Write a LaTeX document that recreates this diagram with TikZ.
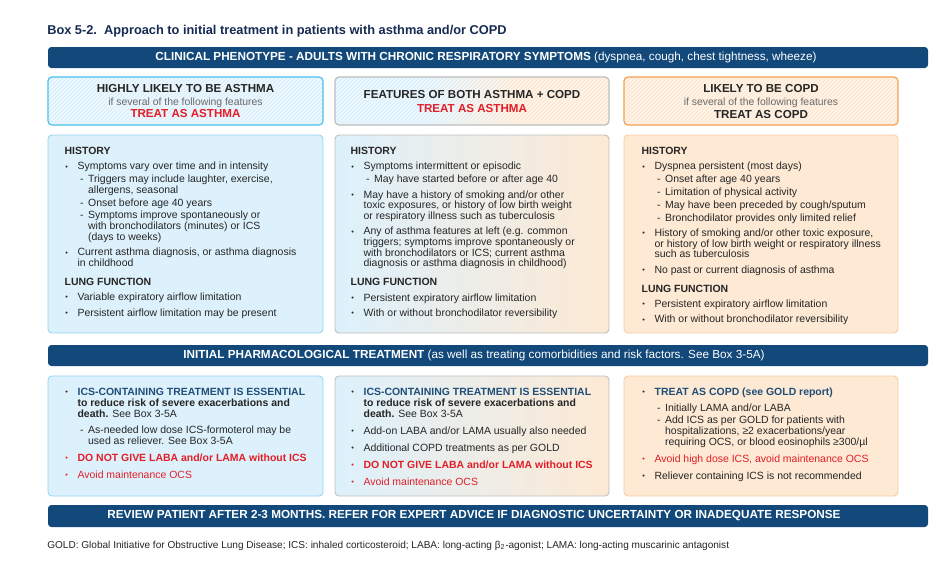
\documentclass[tikz,border=0pt]{standalone}
\usepackage{fontspec}
\setmainfont{Liberation Sans}
\usetikzlibrary{patterns}

\definecolor{navy}{RGB}{18,73,122}
\definecolor{titleblue}{RGB}{22,43,84}
\definecolor{dblue}{RGB}{31,78,121}
\definecolor{lblue}{RGB}{221,241,252}
\definecolor{cyanline}{RGB}{76,192,238}
\definecolor{cyanlight}{RGB}{150,214,242}
\definecolor{lpeach}{RGB}{253,233,212}
\definecolor{midcream}{RGB}{246,243,238}
\definecolor{orline}{RGB}{244,160,82}
\definecolor{orlight}{RGB}{249,206,164}
\definecolor{grline}{RGB}{190,190,190}
\definecolor{redtxt}{RGB}{226,30,40}
\definecolor{txt}{RGB}{38,38,38}
\definecolor{subtxt}{RGB}{105,105,105}

\pgfdeclarehorizontalshading{bothsh}{100bp}{color(0bp)=(lblue); color(42bp)=(lblue); color(58bp)=(lpeach); color(100bp)=(lpeach)}

% list macros
\newlength{\bgap}
\newlength{\dgap}
\newif\iffirstln
\newcommand{\lngap}[1]{\par\iffirstln\global\firstlnfalse\else\vspace{#1}\fi}
\newcommand{\dotmark}{\raisebox{0.5pt}{\fontsize{5.5}{5.5}\selectfont\textbullet}}
\newcommand{\hd}[1]{\lngap{6pt}\noindent\textbf{#1}}
\newcommand{\bul}[1][txt]{\lngap{\bgap}\noindent\hangindent=9.7pt\hangafter=1\makebox[9.7pt][l]{\kern0.5pt\textcolor{#1}{\dotmark}}\ignorespaces}
\newcommand{\dsh}[1][\dgap]{\lngap{#1}\noindent\hangindent=17.6pt\hangafter=1\hspace*{11.6pt}\makebox[6pt][l]{-}\ignorespaces}
\newcommand{\histfont}{\fontsize{7.85}{8}\selectfont\setlength{\parindent}{0pt}\setlength{\bgap}{3.6pt}\setlength{\dgap}{1.6pt}\global\firstlntrue}
\newcommand{\treatfont}{\fontsize{7.85}{8.3}\selectfont\setlength{\parindent}{0pt}\setlength{\bgap}{4.4pt}\setlength{\dgap}{3.5pt}\global\firstlntrue}

\begin{document}
\begin{tikzpicture}[x=0.75pt,y=-0.75pt,
  bar/.style={fill=navy, rounded corners=2.5pt},
  bartext/.style={text=white, font=\fontsize{8.8}{10}\selectfont},
  headbox/.style={rounded corners=3pt, line width=0.9pt},
  bodybox/.style={rounded corners=3pt, line width=0.7pt},
  hatch/.style={rounded corners=3pt, pattern=north east lines, pattern color=white, fill opacity=0.7},
  list/.style={anchor=base west, inner sep=0pt, text=txt},
  htitle/.style={font=\fontsize{8.7}{9}\selectfont\bfseries, text=txt},
  hsub/.style={font=\fontsize{7.8}{9}\selectfont, text=subtxt},
  htreat/.style={font=\fontsize{8.7}{9}\selectfont\bfseries, text=redtxt}]

\useasboundingbox (0,0) rectangle (945,579);
\fill[white] (0,0) rectangle (945,579);

\node[anchor=base west, inner sep=0pt, text=titleblue, font=\fontsize{9.6}{11}\selectfont\bfseries] (boxtitle) at (47,34.6) {Box 5-2.\ \ Approach to initial treatment in patients with asthma and/or COPD};

% phenotype bar
\fill[bar] (48,47) rectangle (928,68);
\node[bartext] (phenotype) at (486,57.5) {\textbf{CLINICAL PHENOTYPE - ADULTS WITH CHRONIC RESPIRATORY SYMPTOMS} (dyspnea, cough, chest tightness, wheeze)};

% header boxes
\fill[rounded corners=3pt, lblue] (48,77) rectangle (323,125);
\fill[hatch] (48,77) rectangle (323,125);
\draw[headbox, cyanline] (48,77) rectangle (323,125);

\shade[rounded corners=3pt, shading=bothsh] (335,77) rectangle (609,125);
\fill[hatch] (335,77) rectangle (609,125);
\draw[headbox, grline] (335,77) rectangle (609,125);

\fill[rounded corners=3pt, lpeach] (624,77) rectangle (898,125);
\fill[hatch] (624,77) rectangle (898,125);
\draw[headbox, orline] (624,77) rectangle (898,125);

\node[htitle] (asthmaTitle) at (185.5,88.3) {HIGHLY LIKELY TO BE ASTHMA};
\node[hsub] (asthmaSub) at (185.5,102.7) {if several of the following features};
\node[htreat] (asthmaTreat) at (185.5,113.3) {TREAT AS ASTHMA};

\node[htitle] (bothTitle) at (472,95) {FEATURES OF BOTH ASTHMA + COPD};
\node[htreat] (bothTreat) at (472,108.3) {TREAT AS ASTHMA};

\node[htitle] (copdTitle) at (761,88.3) {LIKELY TO BE COPD};
\node[hsub] (copdSub) at (761,102.7) {if several of the following features};
\node[htitle] (copdTreat) at (761,114.3) {TREAT AS COPD};

% history boxes
\filldraw[bodybox, fill=lblue, draw=cyanlight] (48,135) rectangle (323,333);
\shade[rounded corners=3pt, left color=lblue, middle color=midcream, right color=lpeach] (335,135) rectangle (609,333);
\draw[bodybox, grline] (335,135) rectangle (609,333);
\filldraw[bodybox, fill=lpeach, draw=orlight] (624,135) rectangle (898,333);

\node[list] (asthmaHist) at (64.4,154.4) {\parbox[t]{250pt}{\histfont
\hd{HISTORY}
\bul Symptoms vary over time and in intensity
\dsh Triggers may include laughter, exercise,\newline allergens, seasonal
\dsh Onset before age 40 years
\dsh Symptoms improve spontaneously or\newline with bronchodilators (minutes) or ICS\newline (days to weeks)
\bul Current asthma diagnosis, or asthma diagnosis\newline in childhood
\hd{LUNG FUNCTION}
\bul Variable expiratory airflow limitation
\bul Persistent airflow limitation may be present}};

\node[list] (bothHist) at (350.4,154.4) {\parbox[t]{250pt}{\histfont
\hd{HISTORY}
\bul Symptoms intermittent or episodic
\dsh May have started before or after age 40
\bul May have a history of smoking and/or other\newline toxic exposures, or history of low birth weight\newline or respiratory illness such as tuberculosis
\bul Any of asthma features at left (e.g. common\newline triggers; symptoms improve spontaneously or\newline with bronchodilators or ICS; current asthma\newline diagnosis or asthma diagnosis in childhood)
\hd{LUNG FUNCTION}
\bul Persistent expiratory airflow limitation
\bul With or without bronchodilator reversibility}};

\node[list] (copdHist) at (641.4,154.4) {\parbox[t]{250pt}{\histfont
\hd{HISTORY}
\bul Dyspnea persistent (most days)
\dsh Onset after age 40 years
\dsh Limitation of physical activity
\dsh May have been preceded by cough/sputum
\dsh Bronchodilator provides only limited relief
\bul History of smoking and/or other toxic exposure,\newline or history of low birth weight or respiratory illness\newline such as tuberculosis
\bul No past or current diagnosis of asthma
\hd{LUNG FUNCTION}
\bul Persistent expiratory airflow limitation
\bul With or without bronchodilator reversibility}};

% treatment bar
\fill[bar] (48,345) rectangle (928,366);
\node[bartext] (initial) at (474,355.5) {\textbf{INITIAL PHARMACOLOGICAL TREATMENT} (as well as treating comorbidities and risk factors. See Box 3-5A)};

% treatment boxes
\filldraw[bodybox, fill=lblue, draw=cyanlight] (48,376) rectangle (323,496);
\shade[rounded corners=3pt, left color=lblue, middle color=midcream, right color=lpeach] (335,376) rectangle (609,496);
\draw[bodybox, grline] (335,376) rectangle (609,496);
\filldraw[bodybox, fill=lpeach, draw=orlight] (624,376) rectangle (898,496);

\node[list] (asthmaTx) at (64.4,395.4) {\parbox[t]{250pt}{\treatfont
\bul \textcolor{dblue}{\textbf{ICS-CONTAINING TREATMENT IS ESSENTIAL}}\newline \textbf{to reduce risk of severe exacerbations and}\newline \textbf{death.} See Box 3-5A
\dsh As-needed low dose ICS-formoterol may be\newline used as reliever. See Box 3-5A
\bul[redtxt] \textcolor{redtxt}{\textbf{DO NOT GIVE LABA and/or LAMA without ICS}}
\bul[redtxt] \textcolor{redtxt}{Avoid maintenance OCS}}};

\node[list] (bothTx) at (350.4,395.4) {\parbox[t]{250pt}{\treatfont
\bul \textcolor{dblue}{\textbf{ICS-CONTAINING TREATMENT IS ESSENTIAL}}\newline \textbf{to reduce risk of severe exacerbations and}\newline \textbf{death.} See Box 3-5A
\bul Add-on LABA and/or LAMA usually also needed
\bul Additional COPD treatments as per GOLD
\bul[redtxt] \textcolor{redtxt}{\textbf{DO NOT GIVE LABA and/or LAMA without ICS}}
\bul[redtxt] \textcolor{redtxt}{Avoid maintenance OCS}}};

\node[list] (copdTx) at (641.4,395.4) {\parbox[t]{250pt}{\treatfont
\bul \textcolor{dblue}{\textbf{TREAT AS COPD (see GOLD report)}}
\dsh Initially LAMA and/or LABA
\dsh[1pt] Add ICS as per GOLD for patients with\newline hospitalizations, ≥2 exacerbations/year\newline requiring OCS, or blood eosinophils ≥300/µl
\bul[redtxt] \textcolor{redtxt}{Avoid high dose ICS, avoid maintenance OCS}
\bul Reliever containing ICS is not recommended}};

% review bar
\fill[bar] (48,505) rectangle (928,527);
\node[bartext, font=\fontsize{8.8}{10}\selectfont\bfseries] (review) at (474,516) {REVIEW PATIENT AFTER 2-3 MONTHS. REFER FOR EXPERT ADVICE IF DIAGNOSTIC UNCERTAINTY OR INADEQUATE RESPONSE};

\node[anchor=base west, inner sep=0pt, text=txt, font=\fontsize{7.55}{9}\selectfont] (footnote) at (47,548) {GOLD: Global Initiative for Obstructive Lung Disease; ICS: inhaled corticosteroid; LABA: long-acting β\textsubscript{2}-agonist; LAMA: long-acting muscarinic antagonist};

\end{tikzpicture}
\end{document}
